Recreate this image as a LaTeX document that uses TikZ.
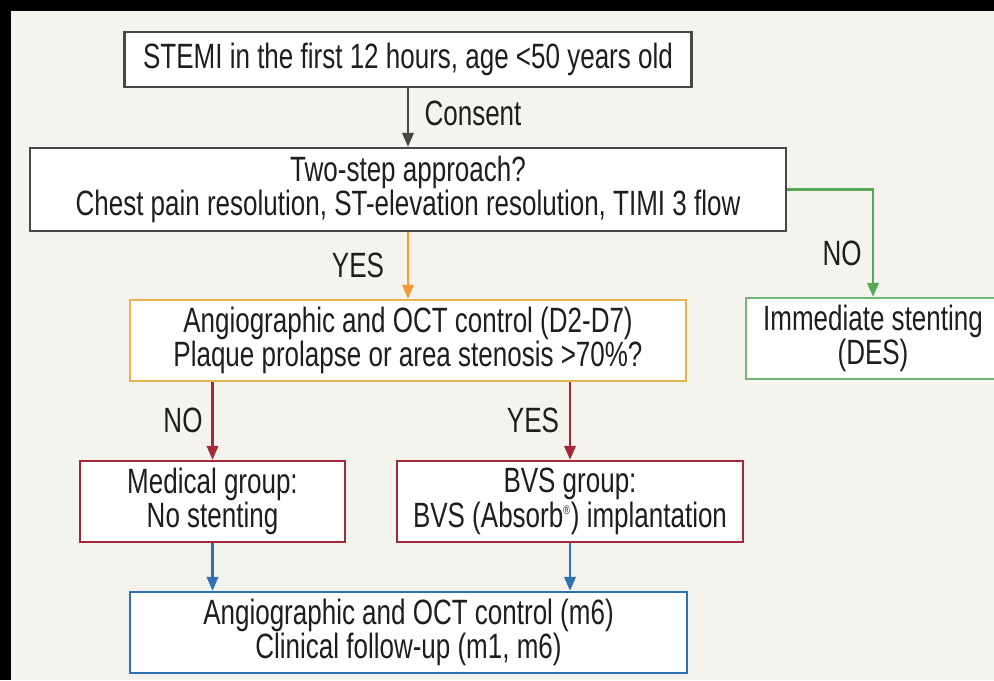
\documentclass[tikz,border=0pt]{standalone}
\usepackage{fontspec}
\setmainfont{Liberation Sans}[FakeStretch=0.74]
\usepackage{xcolor}
\usepackage{tikz}
\usetikzlibrary{positioning,calc,arrows.meta}
\definecolor{bgpaper}{HTML}{F5F3EE}
\definecolor{boxgray}{HTML}{474747}
\definecolor{txtgray}{HTML}{1E1E1E}
\definecolor{orangearr}{HTML}{F09C32}
\definecolor{orangebox}{HTML}{E8B450}
\definecolor{greenarr}{HTML}{55A855}
\definecolor{greenbox}{HTML}{74B474}
\definecolor{redarr}{HTML}{A3283A}
\definecolor{bluearr}{HTML}{2E72B5}

\begin{document}
\begin{tikzpicture}[x=0.02cm, y=-0.02cm,
    box/.style={draw=boxgray, fill=white, line width=1.4pt, align=center, text=txtgray, inner sep=2pt, font=\fontsize{20}{16}\selectfont},
    lbl/.style={text=txtgray, inner sep=0pt, font=\fontsize{20}{16}\selectfont},
    arr/.style={line width=1.3pt, -{Triangle[length=2.8mm,width=2.3mm]}}]
    % Paper and frame
    \useasboundingbox (0,0) rectangle (994,680);
    \fill [bgpaper] (0,0) rectangle (994,680);
    \fill [black] (0,0) rectangle (994,11);
    \fill [black] (0,0) rectangle (11,680);

    % Boxes
    \node [box, minimum width=11.34cm, minimum height=1.1cm] (stemi) at (408,59.5) {STEMI in the first 12 hours, age <50 years old};
    \node [box, minimum width=15.12cm, minimum height=1.66cm] (twostep) at (408,189.5) {Two-step approach?\\Chest pain resolution, ST-elevation resolution, TIMI 3 flow};
    \node [box, draw=orangebox, minimum width=11.12cm, minimum height=1.62cm] (angio) at (408,340.5) {Angiographic and OCT control (D2-D7)\\Plaque prolapse or area stenosis >70\%?};
    \node [box, draw=greenbox, minimum width=5.08cm, minimum height=1.62cm] (immediate) at (873,338.5) {Immediate stenting\\(DES)};
    \node [box, draw=redarr, minimum width=5.3cm, minimum height=1.62cm] (medical) at (212.5,501.5) {Medical group:\\No stenting};
    \node [box, draw=redarr, minimum width=6.92cm, minimum height=1.62cm] (bvs) at (570,501.5) {BVS group:\\BVS (Absorb\textsuperscript{\scriptsize ®}) implantation};
    \node [box, draw=bluearr, minimum width=11.14cm, minimum height=1.62cm] (followup) at (408.5,632.5) {Angiographic and OCT control (m6)\\Clinical follow-up (m1, m6)};

    % Labels
    \node [lbl] (consent) at (473,113) {Consent};
    \node [lbl] (yestwo) at (358,265) {YES};
    \node [lbl] (notwo) at (842,253) {NO};
    \node [lbl] (noangio) at (183,420) {NO};
    \node [lbl] (yesangio) at (533,420) {YES};

    % Arrows
    \draw [arr, boxgray] (stemi.south) -- (stemi.south |- twostep.north);
    \draw [arr, orangearr] (twostep.south) -- (twostep.south |- angio.north);
    \draw [arr, greenarr] (twostep.east) -| (immediate.north);
    \draw [arr, redarr] (medical.north |- angio.south) -- (medical.north);
    \draw [arr, redarr] (bvs.north |- angio.south) -- (bvs.north);
    \draw [arr, bluearr] (medical.south) -- (medical.south |- followup.north);
    \draw [arr, bluearr] (bvs.south) -- (bvs.south |- followup.north);
\end{tikzpicture}
\end{document}
